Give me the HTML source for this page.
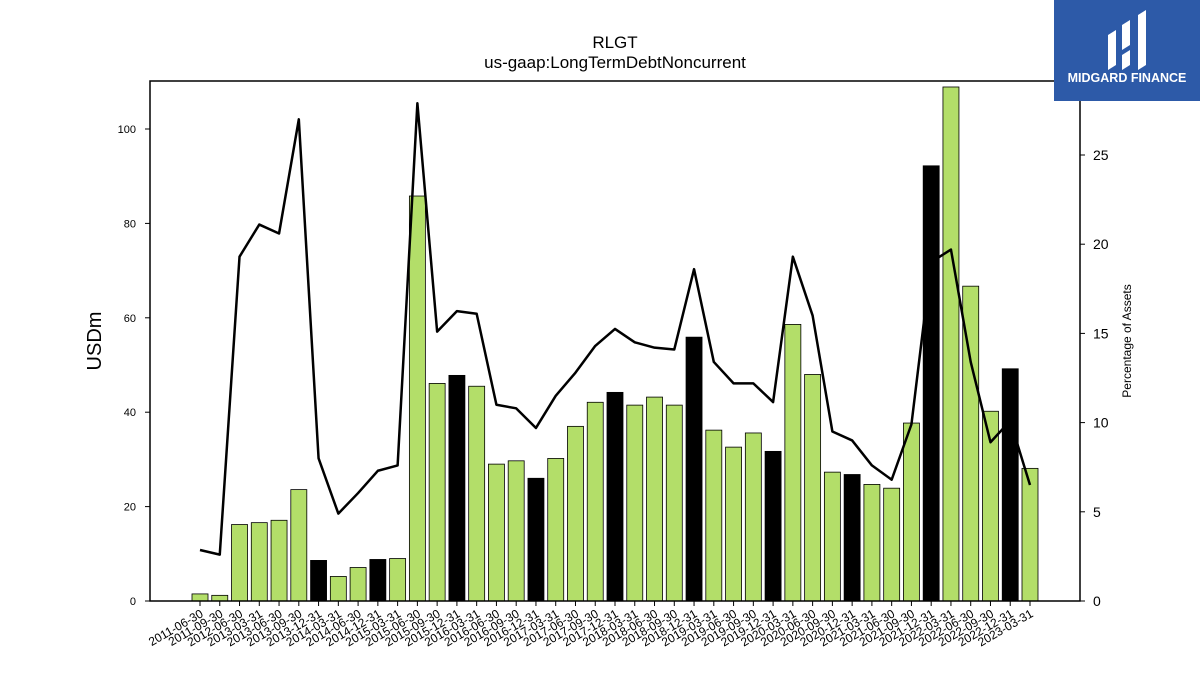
<!DOCTYPE html>
<html><head><meta charset="utf-8"><style>
body{margin:0;background:#fff;font-family:"Liberation Sans","DejaVu Sans",sans-serif;}
#wrap{position:relative;width:1200px;height:675px;overflow:hidden;}
</style></head><body>
<div id="wrap">
<svg id="chart" width="1200" height="675" style="position:absolute;left:0;top:0">
<text x="615" y="48" text-anchor="middle" font-size="17">RLGT</text>
<text x="615" y="68" text-anchor="middle" font-size="17">us-gaap:LongTermDebtNoncurrent</text>
<text transform="translate(101,341) rotate(-90)" text-anchor="middle" font-size="20">USDm</text>
<text transform="translate(1131,341) rotate(-90)" text-anchor="middle" font-size="12">Percentage of Assets</text>
<g id="plot"></g>
<rect x="150" y="81" width="930" height="520" fill="none" stroke="#000" stroke-width="1.5"/>
</svg>
<div style="position:absolute;left:1054px;top:0;width:146px;height:101px;background:#2d5aa8;">
<svg width="146" height="101" style="position:absolute;left:0;top:0">
<path d="M54 35 L62 30 L62 65 L54 70 Z" fill="#fff"/><path d="M68 25 L76 20 L76 45 L68 50 Z" fill="#fff"/><path d="M68 55 L76 50 L76 65 L68 70 Z" fill="#fff"/><path d="M84 15 L92 10 L92 65 L84 70 Z" fill="#fff"/>
<text x="73" y="82" text-anchor="middle" fill="#fff" font-size="12.5" font-weight="bold">MIDGARD FINANCE</text>
</svg></div>
</div>
<script>
const categories=["2011-06-30","2011-09-30","2012-06-30","2013-03-31","2013-06-30","2013-09-30","2013-12-31","2014-03-31","2014-06-30","2014-12-31","2015-03-31","2015-06-30","2015-09-30","2015-12-31","2016-03-31","2016-06-30","2016-09-30","2016-12-31","2017-03-31","2017-06-30","2017-09-30","2017-12-31","2018-03-31","2018-06-30","2018-09-30","2018-12-31","2019-03-31","2019-06-30","2019-09-30","2019-12-31","2020-03-31","2020-06-30","2020-09-30","2020-12-31","2021-03-31","2021-06-30","2021-09-30","2021-12-31","2022-03-31","2022-06-30","2022-09-30","2022-12-31","2023-03-31"];
const debtValues=[1.5,1.2,16.2,16.6,17.1,23.6,8.6,5.2,7.1,8.8,9.0,85.8,46.1,47.8,45.5,29.0,29.7,26.0,30.2,37.0,42.1,44.2,41.5,43.2,41.5,55.9,36.2,32.6,35.6,31.7,58.6,48.0,27.3,26.8,24.7,23.9,37.7,92.2,108.9,66.7,40.2,49.2,28.1];
const pctValues=[2.86,2.6,19.3,21.1,20.6,27.0,8.0,4.9,6.05,7.3,7.6,27.9,15.1,16.25,16.1,11.0,10.8,9.7,11.5,12.8,14.3,15.25,14.5,14.2,14.1,18.6,13.4,12.2,12.2,11.15,19.3,16.0,9.5,9.0,7.6,6.8,9.9,19.0,19.7,13.4,8.9,10.1,6.5];
const leftTicks=[0,20,40,60,80,100];
const rightTicks=[0,5,10,15,20,25];
const NS="http://www.w3.org/2000/svg";
const g=document.getElementById('plot');
const x=i=>200+i*(830/42);
const yL=v=>601-v*4.72;
const yR=v=>601-v*17.84;
function mk(t,a){const e=document.createElementNS(NS,t);for(const k in a)e.setAttribute(k,a[k]);g.appendChild(e);return e;}
debtValues.forEach((v,i)=>{
 const black=categories[i].endsWith("12-31");
 const r=mk('rect',{x:x(i)-8,y:yL(v),width:16,height:601-yL(v),fill:black?'#000':'#b3de69',stroke:'#000','stroke-width':0.8});
 
 
 const tk=mk('line',{x1:x(i),x2:x(i),y1:601,y2:606,stroke:'#000'});
 
 
 const t=mk('text',{'text-anchor':'end','font-size':12,transform:`translate(${x(i)+4},${616}) rotate(-30)`});
 t.textContent=categories[i];
 
 
});
const pts=pctValues.map((v,i)=>x(i)+','+yR(v)).join(' ');
const pl=mk('polyline',{points:pts,fill:'none',stroke:'#000','stroke-width':2.5,'stroke-linejoin':'round'});


leftTicks.forEach(v=>{
 const l=mk('line',{x1:145,x2:150,y1:yL(v),y2:yL(v),stroke:'#000'});
 
 
 const t=mk('text',{x:136,y:yL(v)+4,'text-anchor':'end','font-size':11});
 t.textContent=v;
 
 
});
rightTicks.forEach(v=>{
 const l=mk('line',{x1:1080,x2:1085,y1:yR(v),y2:yR(v),stroke:'#000'});
 
 
 const t=mk('text',{x:1093,y:yR(v)+5,'font-size':14});
 t.textContent=v;
 
 
});
</script>
</body></html>
